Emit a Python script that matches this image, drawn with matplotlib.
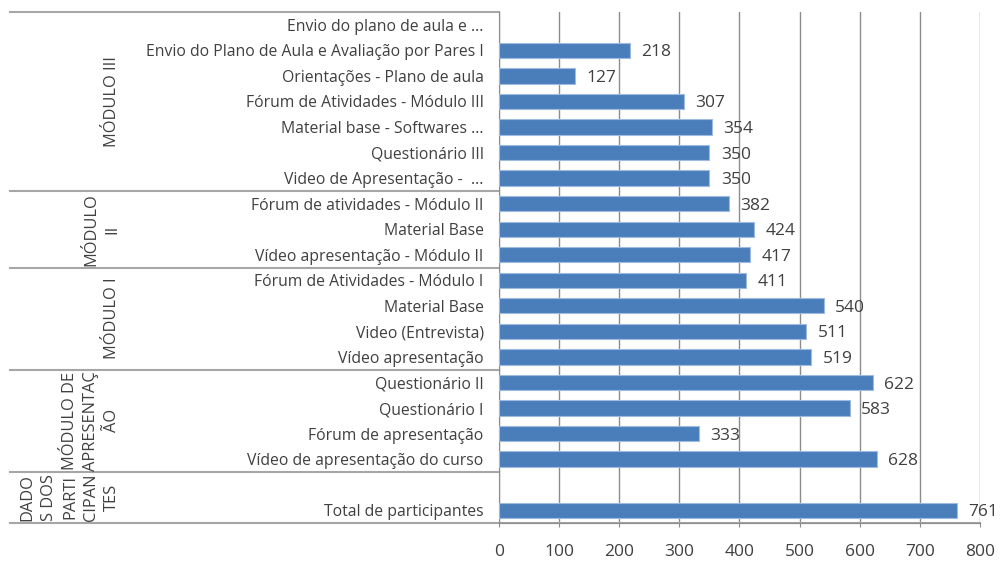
import numpy as np
import matplotlib
matplotlib.use("Agg")
import matplotlib.pyplot as plt

# categories top to bottom
categories = [
    "Envio do plano de aula e ...",
    "Envio do Plano de Aula e Avaliação por Pares I",
    "Orientações - Plano de aula",
    "Fórum de Atividades - Módulo III",
    "Material base - Softwares ...",
    "Questionário III",
    "Video de Apresentação -  ...",
    "Fórum de atividades - Módulo II",
    "Material Base",
    "Vídeo apresentação - Módulo II",
    "Fórum de Atividades - Módulo I",
    "Material Base",
    "Video (Entrevista)",
    "Vídeo apresentação",
    "Questionário II",
    "Questionário I",
    "Fórum de apresentação",
    "Vídeo de apresentação do curso",
    "",
    "Total de participantes",
]
values = [np.nan, 218, 127, 307, 354, 350, 350, 382, 424, 417,
          411, 540, 511, 519, 622, 583, 333, 628, np.nan, 761]
group_names = ["MÓDULO III", "MÓDULO\nII", "MÓDULO I",
               "MÓDULO DE\nAPRESENTAÇ\nÃO", "DADO\nS DOS\nPARTI\nCIPAN\nTES"]
group_sizes = [7, 3, 4, 4, 2]

plt.rcParams['font.family'] = ['Open Sans', 'DejaVu Sans']
txt = '#404040'
line_col = '#a6a6a6'

fig = plt.figure(figsize=(10.04, 5.63), dpi=100)
W, H = 1004, 563
ax = fig.add_axes([499 / W, 1 - 523 / H, (980 - 499) / W, (523 - 12) / H])

y = np.arange(len(categories))
ax.barh(y, values, height=0.6, color='#4a7ebb', edgecolor='#9dbbe0', linewidth=0.8, zorder=3)
for yi, v in zip(y, values):
    if not np.isnan(v):
        ax.text(v + 19, yi + 0.08, f"{int(v)}", va='center', ha='left', fontsize=12.5, color=txt, zorder=4)

ax.set_xlim(0, 800)
ax.set_ylim(len(categories) - 0.5, -0.5)
ax.set_xticks(np.arange(0, 801, 100))
ax.xaxis.grid(True, color='#8c8c8c', linewidth=1.0, zorder=0)
ax.set_yticks(y)
ax.set_yticklabels(categories, fontsize=11.3, color=txt)
ax.tick_params(axis='y', length=0, pad=11)
ax.tick_params(axis='x', length=3, color='#8c8c8c', labelsize=12.5, labelcolor=txt, pad=12)
for s in ['top', 'right']:
    ax.spines[s].set_visible(False)
ax.spines['left'].set_color('#8c8c8c')
ax.spines['bottom'].set_color('#8c8c8c')

# grouped category table on the left
x_left = (10 - 499) / (980 - 499)
x_glabel = (120 - 499) / (980 - 499)
trans = ax.get_yaxis_transform()
ax.plot([x_left, 0], [-0.5, -0.5], transform=trans, color=line_col, lw=1.5, clip_on=False)
ax.plot([x_left, 1], [len(categories) - 0.5] * 2, transform=trans, color=line_col, lw=1.5, clip_on=False)
start = 0
for name, n in zip(group_names, group_sizes):
    end = start + n
    if end < len(categories):
        ax.plot([x_left, 0], [end - 0.5] * 2, transform=trans, color=line_col, lw=1.5, clip_on=False)
    ax.text(x_glabel, (start + end - 1) / 2, name, transform=trans, rotation=90,
            ha='right', va='center', multialignment='center', fontsize=11.8,
            color=txt, linespacing=1.42)
    start = end

fig.savefig("out.png", dpi=100)
